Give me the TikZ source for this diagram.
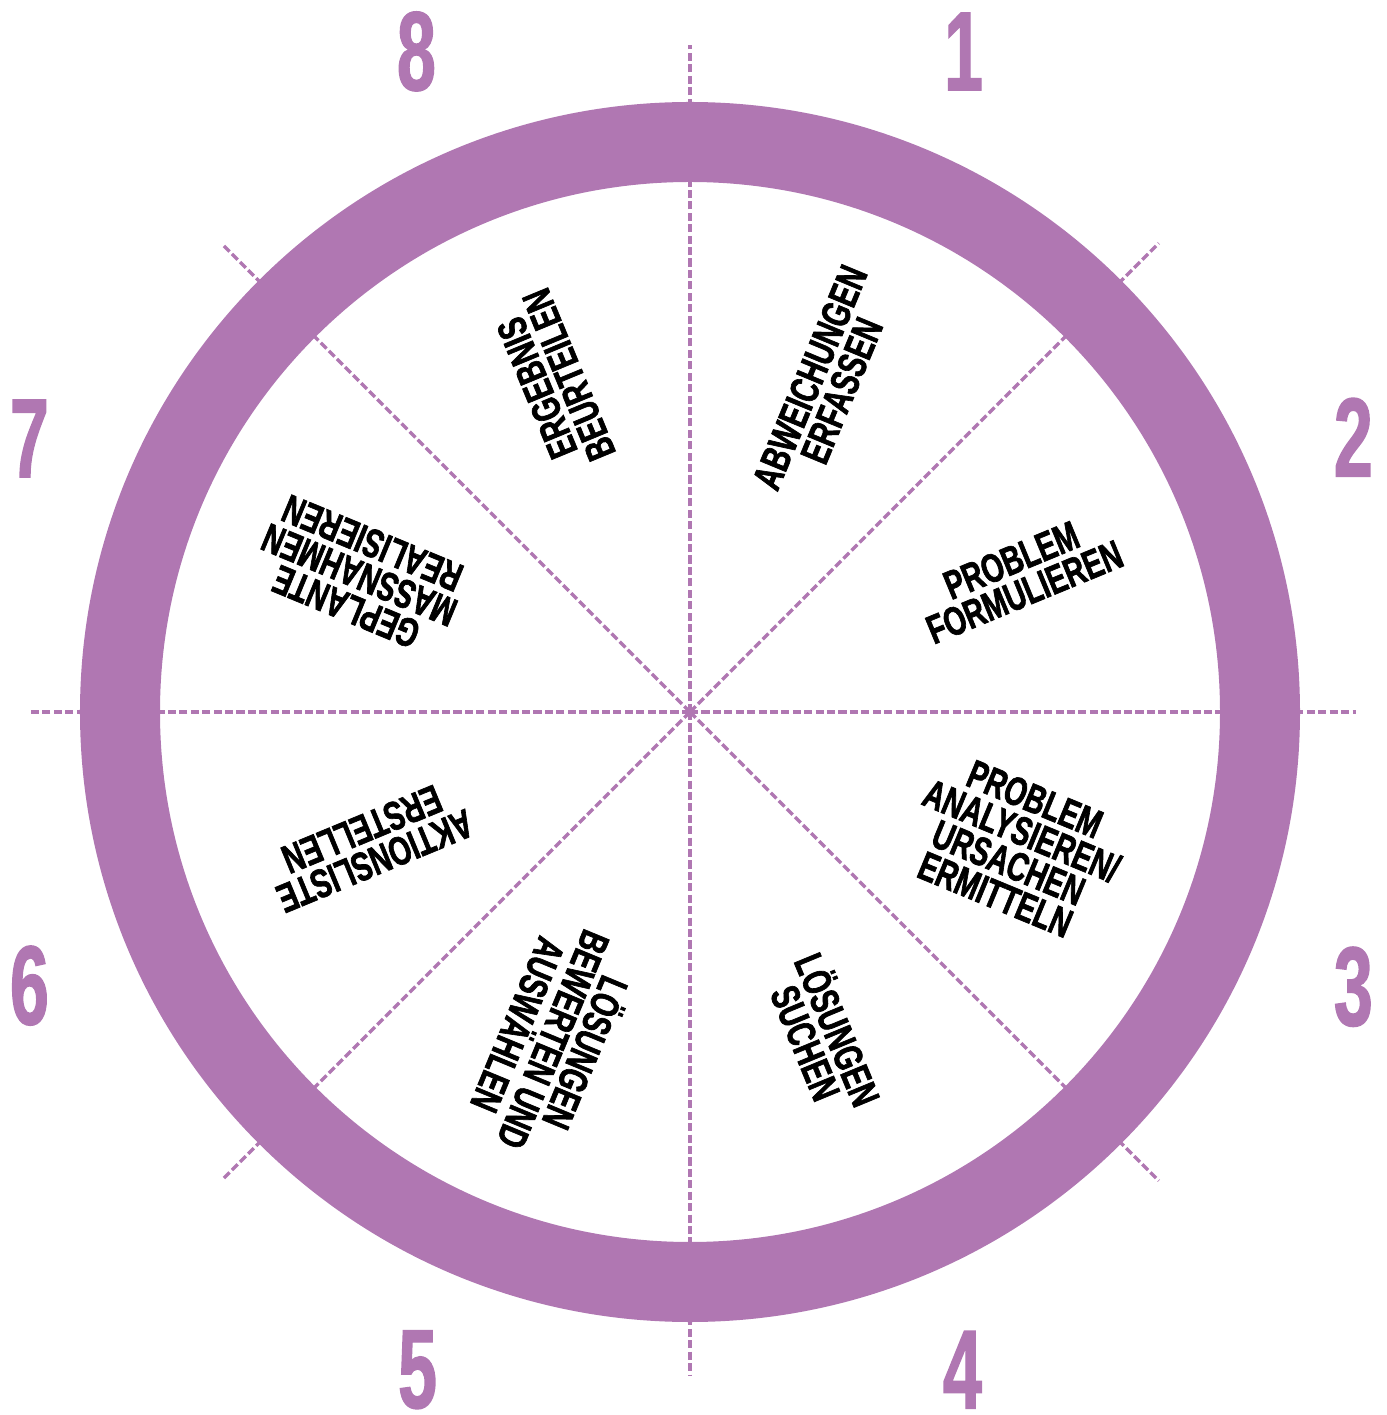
\documentclass[tikz,border=0pt]{standalone}
\usepackage{fontspec}
\usepackage{tikz}
\newfontfamily\condfont[FakeStretch=0.7, FakeBold=1.6]{Liberation Sans}
\newfontfamily\numfont[FakeStretch=0.62, FakeBold=1.2]{Liberation Sans}
\definecolor{ringlila}{RGB}{176,119,178}
\tikzset{
    guide/.style={ringlila, line width=0.95pt, dash pattern=on 2.3pt off 0.95pt},
    phase/.style={font=\condfont\bfseries\fontsize{11.5}{9.8}\selectfont, align=center, inner sep=0pt},
    phasenum/.style={font=\numfont\bfseries\fontsize{32}{32}\selectfont, text=ringlila, inner sep=0pt}
}

\begin{document}
\begin{tikzpicture}

    % Page frame
    \useasboundingbox (-6.90,-7.03) rectangle (6.96,7.12);

    % Centre and free ends of the dashed guides
    \coordinate (ctr) at (0,0);
    \coordinate (e0) at (0:6.66);
    \coordinate (e45) at (45:6.63);
    \coordinate (e90) at (90:6.67);
    \coordinate (e135) at (135:6.62);
    \coordinate (e180) at (180:6.62);
    \coordinate (e225) at (225:6.62);
    \coordinate (e270) at (270:6.63);
    \coordinate (e315) at (315:6.63);

    % Dashed sector guides
    \draw[guide] (ctr) -- (e0);
    \draw[guide] (ctr) -- (e45);
    \draw[guide] (ctr) -- (e90);
    \draw[guide] (ctr) -- (e135);
    \draw[guide] (ctr) -- (e180);
    \draw[guide] (ctr) -- (e225);
    \draw[guide] (ctr) -- (e270);
    \draw[guide] (ctr) -- (e315);
    \fill[ringlila] (ctr) circle (0.05);

    % Thick ring on top of the guides
    \draw[ringlila, line width=0.8cm] (ctr) circle (5.70);

    % Phase texts, one per sector
    \node[phase, rotate=67.5] (lbl1) at (67.5:3.55) {ABWEICHUNGEN\\ERFASSEN};
    \node[phase, rotate=22.5] (lbl2) at (22.5:3.55) {PROBLEM\\FORMULIEREN};
    \node[phase, rotate=-22.5] (lbl3) at (-22.5:3.52) {PROBLEM\\ANALYSIEREN/\\URSACHEN\\ERMITTELN};
    \node[phase, rotate=-67.5] (lbl4) at (-67.5:3.50) {LÖSUNGEN\\SUCHEN};
    \node[phase, rotate=-112.5] (lbl5) at (-112.5:3.55) {LÖSUNGEN\\BEWERTEN UND\\AUSWÄHLEN};
    \node[phase, rotate=-157.5] (lbl6) at (-157.5:3.48) {AKTIONSLISTE\\ERSTELLEN};
    \node[phase, rotate=157.5] (lbl7) at (157.5:3.58) {GEPLANTE\\MASSNAHMEN\\REALISIEREN};
    \node[phase, rotate=112.5] (lbl8) at (112.5:3.58) {ERGEBNIS\\BEURTEILEN};

    % Step numbers outside the ring
    \node[phasenum] (num1) at (67.5:7.15) {1};
    \node[phasenum] (num2) at (22.5:7.18) {2};
    \node[phasenum] (num3) at (-22.5:7.18) {3};
    \node[phasenum] (num4) at (-67.5:7.12) {4};
    \node[phasenum] (num5) at (-112.5:7.12) {5};
    \node[phasenum] (num6) at (-157.5:7.15) {6};
    \node[phasenum] (num7) at (157.5:7.15) {7};
    \node[phasenum] (num8) at (112.5:7.15) {8};

\end{tikzpicture}
\end{document}
